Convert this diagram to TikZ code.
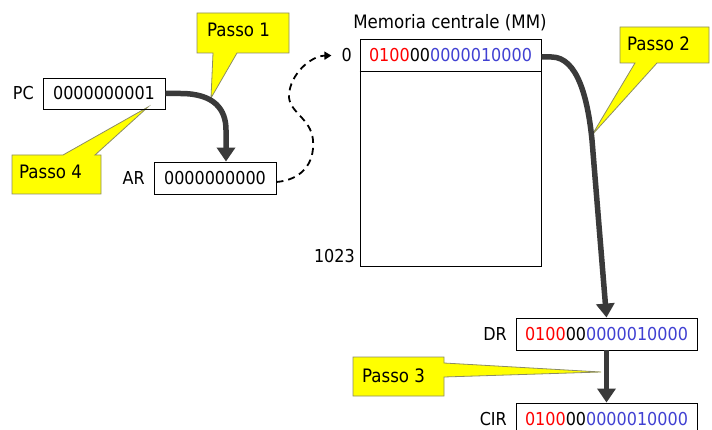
\documentclass[tikz,border=0pt]{standalone}
\usepackage{fontspec}
\setmainfont{DejaVu Sans Condensed}
\usetikzlibrary{arrows.meta}
\definecolor{bitred}{RGB}{255,0,0}
\definecolor{bitblue}{RGB}{64,64,210}
\definecolor{arrowgray}{RGB}{58,58,58}
\definecolor{callfill}{RGB}{255,255,0}
\definecolor{callline}{RGB}{140,140,100}
\newcommand{\instr}{{\color{bitred}0100}00{\color{bitblue}0000010000}}
\begin{document}
\begin{tikzpicture}[x=1pt,y=-1pt,
  reg/.style={draw,line width=0.9pt,rectangle,inner sep=0pt,font=\fontsize{17.8}{20}\selectfont},
  lbl/.style={inner sep=0pt,font=\fontsize{17.8}{20}\selectfont},
  callshape/.style={fill=callfill,draw=callline,line width=0.8pt,line join=miter},
  calltext/.style={inner sep=0pt,anchor=base west,font=\fontsize{18.5}{20}\selectfont},
  bigarrow/.style={draw=arrowgray,line width=5.5pt,-{Triangle[width=18pt,length=14pt]}},
  dasharrow/.style={draw=black,line width=1.8pt,dash pattern=on 7pt off 5pt,-{Triangle[width=8pt,length=7pt]}},
  ]
\useasboundingbox (0,0) rectangle (712,430);

% callouts
\draw[callshape] (197,13) -- (289,13) -- (289,53) -- (237,53) -- (211,98) -- (213,53) -- (197,53) -- cycle;
\draw[callshape] (12,155) -- (63,155) -- (148,107) -- (95,155) -- (101,155) -- (101,194) -- (12,194) -- cycle;
\draw[callshape] (620,27) -- (709,27) -- (709,63) -- (657,63) -- (592,135) -- (635,63) -- (620,63) -- cycle;
\draw[callshape] (353,357) -- (444,357) -- (444,363) -- (601,372) -- (444,377) -- (444,396) -- (353,396) -- cycle;
\node[calltext] (p1) at (207,37) {Passo 1};
\node[calltext] (p4) at (19,179) {Passo 4};
\node[calltext] (p2) at (627,51) {Passo 2};
\node[calltext] (p3) at (362,382) {Passo 3};

% registers
\node[reg,minimum width=122pt,minimum height=31pt] (pc) at (104,93.5) {0000000001};
\node[reg,minimum width=122pt,minimum height=32pt] (ar) at (215,178) {0000000000};
\node[reg,minimum width=181pt,minimum height=32pt] (dr) at (606.5,334) {\instr};
\node[reg,minimum width=181pt,minimum height=32pt] (cir) at (606.5,419) {\instr};

% memory
\node[lbl,anchor=base,font=\fontsize{18.5}{21}\selectfont] (title) at (450,29) {Memoria centrale (MM)};
\node[reg,minimum width=181pt,minimum height=32pt] (mem0) at (450.5,55) {\instr};
\node[draw,line width=0.9pt,inner sep=0pt,minimum width=181pt,minimum height=195pt] (memrest) at (450.5,168.5) {};
\draw[line width=1.6pt] (mem0.south west) -- (mem0.south east);

% labels
\node[lbl,anchor=base east] (pcl) at (34,100) {PC};
\node[lbl,anchor=base east] (arl) at (145,185) {AR};
\node[lbl,anchor=base east] (drl) at (507,341) {DR};
\node[lbl,anchor=base east] (cirl) at (507,425) {CIR};
\node[lbl,anchor=base east] (zero) at (352,62) {0};
\node[lbl,anchor=base east] (last) at (355,263) {1023};

% connectors
\draw[bigarrow] (pc.east) -- ++(15,0) .. controls (215,93.5) and (226,110) .. (226,130) -- ([xshift=11pt]ar.north);
\draw[bigarrow] ([yshift=-2pt]mem0.east) -- ++(10,0) .. controls (578,57) and (588,100) .. (592,140) -- (dr.north);
\draw[bigarrow] (dr.south) -- (cir.north);
\draw[dasharrow] ([yshift=-4pt]ar.east) .. controls (300,180) and (315,165) .. (313,140)
  .. controls (311,118) and (288,112) .. (289,95)
  .. controls (290,75) and (310,56) .. ([xshift=-10pt]zero.west);
\end{tikzpicture}
\end{document}
